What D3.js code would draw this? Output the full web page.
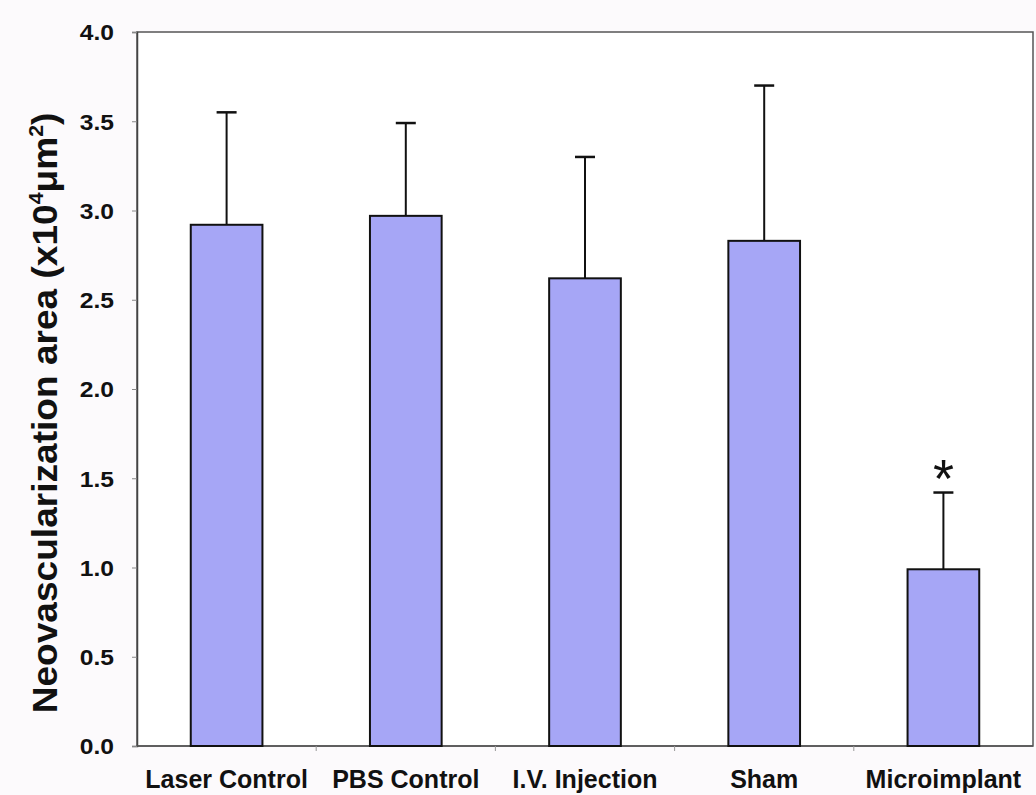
<!DOCTYPE html>
<html>
<head>
<meta charset="utf-8">
<script src="https://cdn.jsdelivr.net/npm/d3@7"></script>
<style>
  body { margin: 0; background: #fcfafc; }
  text { font-family: Arial, "Liberation Sans", sans-serif; font-weight: bold; fill: #111; }
</style>
</head>
<body>
<script>
// values (x10^4 um^2)
let groups = ['Laser Control', 'PBS Control', 'I.V. Injection', 'Sham', 'Microimplant']
let means = [2.92, 2.97, 2.62, 2.83, 0.99]
let errTops = [3.55, 3.49, 3.30, 3.70, 1.42]
let yTicks = [0, 0.5, 1.0, 1.5, 2.0, 2.5, 3.0, 3.5, 4.0]
let starred = ['Microimplant']

let W = 1036, H = 795
let m = { top: 32, right: 3, bottom: 49, left: 137 }

let svg = d3.select('body')
    .append('svg')
    .attr('width', W)
    .attr('height', H)

let x = d3.scaleBand()
    .domain(groups)
    .range([m.left, W - m.right])
    .paddingInner(0)

let y = d3.scaleLinear()
    .domain([0, 4])
    .range([H - m.bottom, m.top])

// plot area
svg.append('rect')
    .attr('x', m.left)
    .attr('y', m.top)
    .attr('width', W - m.right - m.left)
    .attr('height', H - m.bottom - m.top)
    .style('fill', '#ffffff')
    .style('stroke', '#555')
    .style('stroke-width', 1.5)

// y axis - labels look a bit wide in the source
let sx = 1.12
let yAxis = svg.append('g')
    .attr('transform', `translate(${m.left},0)`)
    .call(d3.axisLeft(y).tickValues(yTicks).tickFormat(d3.format('.1f')).tickSize(5))
yAxis.select('.domain').style('stroke', '#444').style('stroke-width', 1.5)
yAxis.selectAll('.tick line').style('stroke', '#888')
yAxis.selectAll('.tick text')
    .attr('x', -23 / sx)
    .attr('dy', '0.36em')
    .attr('transform', `scale(${sx},1)`)
    .style('font-size', '22px')

// x axis with ticks at category boundaries
let xAxis = svg.append('g')
    .attr('transform', `translate(0,${H - m.bottom})`)
xAxis.append('line')
    .attr('x1', m.left).attr('x2', W - m.right)
    .style('stroke', '#555').style('stroke-width', 1.5)
xAxis.selectAll('.bound')
    .data(groups.slice(1))
    .enter()
    .append('line')
    .attr('x1', d => x(d)).attr('x2', d => x(d))
    .attr('y1', 0).attr('y2', 5)
    .style('stroke', '#999')
xAxis.selectAll('text')
    .data(groups)
    .enter()
    .append('text')
    .attr('x', d => x(d) + x.bandwidth() / 2)
    .attr('y', 42)
    .attr('text-anchor', 'middle')
    .style('font-size', '25px')
    .text(d => d)

let bw = x.bandwidth() * 0.4

// error bars (upper only)
let err = svg.append('g')
err.selectAll('.stem')
    .data(groups)
    .enter()
    .append('line')
    .attr('x1', d => x(d) + x.bandwidth() / 2)
    .attr('x2', d => x(d) + x.bandwidth() / 2)
    .attr('y1', (d, i) => y(means[i]))
    .attr('y2', (d, i) => y(errTops[i]))
    .style('stroke', '#111').style('stroke-width', 2)
err.selectAll('.cap')
    .data(groups)
    .enter()
    .append('line')
    .attr('x1', d => x(d) + x.bandwidth() / 2 - 10)
    .attr('x2', d => x(d) + x.bandwidth() / 2 + 10)
    .attr('y1', (d, i) => y(errTops[i]))
    .attr('y2', (d, i) => y(errTops[i]))
    .style('stroke', '#111').style('stroke-width', 2.5)

// bars
svg.append('g').selectAll('rect')
    .data(groups)
    .enter()
    .append('rect')
    .attr('x', d => x(d) + (x.bandwidth() - bw) / 2)
    .attr('width', bw)
    .attr('y', (d, i) => y(means[i]))
    .attr('height', (d, i) => y(0) - y(means[i]))
    .style('fill', '#a6a6f6')
    .style('stroke', '#111')
    .style('stroke-width', 2)

// significance mark
svg.selectAll('.star')
    .data(starred)
    .enter()
    .append('text')
    .attr('x', d => x(d) + x.bandwidth() / 2)
    .attr('y', d => y(errTops[groups.indexOf(d)]) + 4)
    .attr('text-anchor', 'middle')
    .style('font-size', '54px')
    .style('font-weight', 'normal')
    .text('*')

// y title
let title = svg.append('text')
    .attr('transform', `translate(57,413) rotate(-90) scale(1.06,1)`)
    .attr('text-anchor', 'middle')
    .style('font-size', '35px')
title.append('tspan').text('Neovascularization area (x10')
title.append('tspan').attr('dy', -14).style('font-size', '20px').text('4')
title.append('tspan').attr('dy', 14).text('μm')
title.append('tspan').attr('dy', -14).style('font-size', '20px').text('2')
title.append('tspan').attr('dy', 14).text(')')
</script>
</body>
</html>
